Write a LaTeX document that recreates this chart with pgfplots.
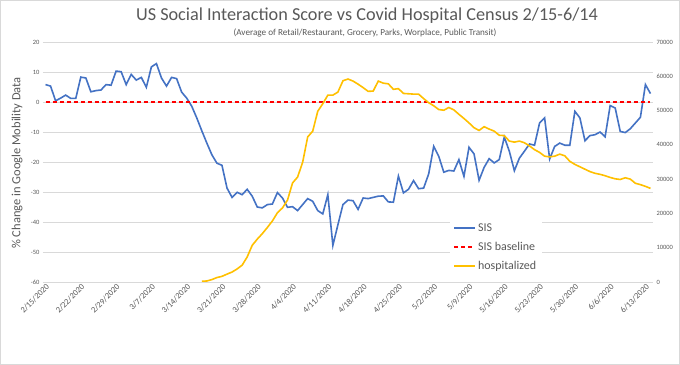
\documentclass[border=0pt]{standalone}
\usepackage{pgfplots}
\pgfplotsset{compat=1.18}
\usepackage{pgfplotstable}
\usepackage{fontspec}
\setmainfont{Carlito}
\definecolor{sisblue}{HTML}{4472C4}
\definecolor{hospyellow}{HTML}{FFC000}
\definecolor{txtgray}{HTML}{595959}
\definecolor{gridgray}{HTML}{D9D9D9}
\definecolor{basered}{HTML}{FF0000}

\pgfplotstableread{
i sis
0 5.8
1 5.3
2 0.4
3 1.3
4 2.3
5 1.2
6 1.2
7 8.3
8 8.0
9 3.4
10 3.8
11 4.0
12 5.8
13 5.6
14 10.3
15 10.1
16 5.8
17 9.2
18 7.3
19 8.2
20 4.9
21 11.7
22 12.8
23 8.0
24 5.3
25 8.2
26 7.8
27 3.3
28 1.3
29 -1.4
30 -5.3
31 -9.6
32 -13.7
33 -17.6
34 -20.4
35 -21.1
36 -28.7
37 -31.8
38 -30.1
39 -30.9
40 -29.1
41 -31.4
42 -35.0
43 -35.3
44 -34.2
45 -34.0
46 -30.2
47 -32.0
48 -35.1
49 -34.9
50 -36.2
51 -34.2
52 -32.2
53 -33.1
54 -36.2
55 -37.3
56 -30.9
57 -47.8
58 -40.9
59 -34.2
60 -32.7
61 -32.9
62 -35.8
63 -32.0
64 -32.2
65 -31.8
66 -31.4
67 -31.3
68 -33.3
69 -33.4
70 -24.7
71 -30.3
72 -29.1
73 -26.2
74 -28.9
75 -28.7
76 -24.0
77 -14.8
78 -18.1
79 -23.4
80 -22.8
81 -23.0
82 -19.2
83 -24.8
84 -15.1
85 -17.3
86 -26.1
87 -21.8
88 -18.9
89 -20.3
90 -19.2
91 -11.7
92 -16.4
93 -22.9
94 -18.7
95 -16.4
96 -14.0
97 -14.4
98 -7.0
99 -5.3
100 -19.0
101 -14.8
102 -13.7
103 -14.4
104 -14.4
105 -3.1
106 -5.3
107 -12.9
108 -11.2
109 -10.9
110 -10.0
111 -11.6
112 -1.2
113 -2.0
114 -9.8
115 -10.2
116 -8.9
117 -7.0
118 -5.1
119 5.8
120 2.8
}\sisdata

\pgfplotstableread{
i hosp
31 200
32 300
33 700
34 1300
35 1650
36 2300
37 2900
38 3800
39 4900
40 7300
41 10700
42 12500
43 14100
44 15900
45 17800
46 20200
47 21600
48 23900
49 28900
50 30600
51 34900
52 42300
53 44000
54 49800
55 52000
56 54500
57 54500
58 55400
59 58700
60 59200
61 58600
62 57700
63 56700
64 55600
65 55700
66 58600
67 58000
68 57800
69 56200
70 56400
71 55000
72 54900
73 54800
74 54800
75 53500
76 52300
77 51400
78 50300
79 50100
80 50900
81 50200
82 48900
83 47700
84 46400
85 45000
86 44200
87 45300
88 44600
89 44000
90 42800
91 42700
92 41100
93 40800
94 41100
95 40600
96 39700
97 38600
98 37800
99 36700
100 36500
101 36700
102 37300
103 36800
104 35200
105 34300
106 33600
107 32900
108 32200
109 31700
110 31400
111 31000
112 30500
113 30100
114 29900
115 30400
116 30000
117 28800
118 28400
119 27900
120 27300
}\hospdata

\pgfplotsset{
  commonax/.style={
    at={(43bp,83bp)}, anchor=south west,
    scale only axis, width=610bp, height=240bp,
    xmin=-0.5, xmax=120.5,
    axis line style={draw=none},
    major tick length=0pt,
    /pgf/number format/assume math mode=true,
    y tick label style={font=\fontsize{6.5}{7}\selectfont, text=txtgray},
  }
}

\begin{document}
\begin{tikzpicture}
\useasboundingbox (0,0) rectangle (680bp,365bp);
\fill[white] (0,0) rectangle (680bp,365bp);
\draw[gridgray] (0.5bp,0.5bp) rectangle (679.5bp,364.5bp);

\begin{axis}[
  commonax,
  ymin=-60, ymax=20,
  ytick={-60,-50,...,20},
  xtick={0,7,...,119},
  xticklabels={2/15/2020,2/22/2020,2/29/2020,3/7/2020,3/14/2020,3/21/2020,3/28/2020,4/4/2020,4/11/2020,4/18/2020,4/25/2020,5/2/2020,5/9/2020,5/16/2020,5/23/2020,5/30/2020,6/6/2020,6/13/2020},
  x tick label style={rotate=45, anchor=north east, font=\fontsize{8.5}{9}\selectfont, text=txtgray, inner sep=1bp},
  ymajorgrids,
  major grid style={gridgray, line width=0.75bp},
]
\addplot[sisblue, line width=1.6bp] table[x=i, y=sis] {\sisdata};
\addplot[basered, line width=1.2bp, dash pattern=on 4bp off 3bp] coordinates {(0,0) (120,0)};
\end{axis}

\begin{axis}[
  commonax,
  ymin=0, ymax=70000,
  axis y line*=right,
  hide x axis,
  ytick={0,10000,...,70000},
  scaled y ticks=false,
  yticklabel style={/pgf/number format/.cd, fixed, 1000 sep={}},
  legend style={at={(0.667,0.26)}, anchor=north west,
    draw=white, fill=white,
    font=\fontsize{12}{14}\selectfont, row sep=5bp,
    nodes={text=txtgray}},
  legend cell align=left,
  legend image code/.code={\draw[#1] (0bp,0bp) -- (21bp,0bp);},
]
\addlegendimage{draw=sisblue, line width=2bp}
\addlegendentry{SIS}
\addlegendimage{draw=basered, line width=2bp, dash pattern=on 4bp off 3bp}
\addlegendentry{SIS baseline}
\addlegendimage{draw=hospyellow, line width=2bp}
\addlegendentry{hospitalized}
\addplot[draw=hospyellow, line width=1.6bp, forget plot] table[x=i, y=hosp] {\hospdata};
\end{axis}

\node[text=txtgray, font=\fontsize{18.3}{21}\selectfont] at (367bp,349bp) {US Social Interaction Score vs Covid Hospital Census 2/15-6/14};
\node[text=txtgray, font=\fontsize{9.2}{11}\selectfont] at (365bp,332bp) {(Average of Retail/Restaurant, Grocery, Parks, Worplace, Public Transit)};
\node[text=txtgray, font=\fontsize{12.5}{15}\selectfont, rotate=90] at (17bp,202bp) {\% Change in Google Mobility Data};
\end{tikzpicture}
\end{document}
